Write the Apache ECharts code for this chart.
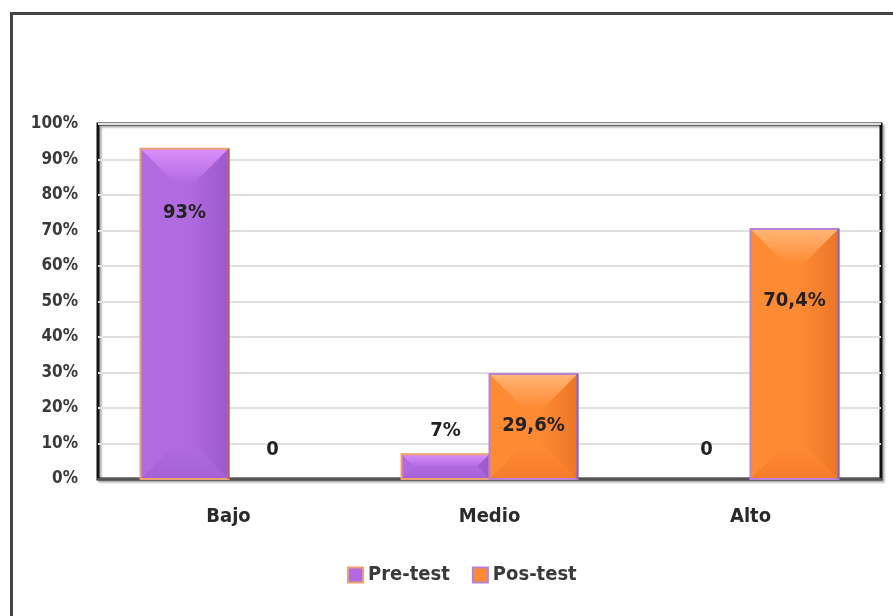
<!DOCTYPE html>
<html>
<head>
<meta charset="utf-8">
<script src="https://cdn.jsdelivr.net/npm/echarts@6/dist/echarts.min.js"></script>
<style>
  html, body { margin: 0; padding: 0; background: #fff; }
  #main { width: 893px; height: 616px; }
</style>
</head>
<body>
<div id="main"></div>
<script>
var categories = ['Bajo', 'Medio', 'Alto'];
var preTest = [93, 7, 0];
var posTest = [0, 29.6, 70.4];
var preLabels = ['93%', '7%', '0'];
var posLabels = ['0', '29,6%', '70,4%'];
var yTicks = [0, 10, 20, 30, 40, 50, 60, 70, 80, 90, 100];

// etiqueta dentro de la barra: distancia desde arriba (null = encima de la barra)
var preDist = [55, null, null];
var posDist = [null, 43, 63];

var font = '"DejaVu Sans Condensed", "DejaVu Sans", sans-serif';

// colores del bisel: cara, arriba, derecha, abajo, borde
var purpleSet = {face: '#b16ae0', top: '#dc8ffb', right: '#9c58cc', bottom: '#a460d4', border: '#eda070', edge: '#a85868'};
var orangeSet = {face: '#ff8a34', top: '#ffb676', right: '#ec7626', bottom: '#f47c2a', border: '#b882d4', edge: '#8c64a8'};

function makeRender(colors, labels, dist, side) {
    return function (params, api) {
        var idx = api.value(0);
        var v = api.value(1);
        var base = api.coord([idx, 0]);
        var catW = api.size([1, 0])[0];
        var bw = catW * 0.337;
        var x0 = side < 0 ? base[0] - bw : base[0];
        var x1 = x0 + bw;
        var y1 = base[1];
        var y0 = api.coord([idx, v])[1];
        var children = [];
        if (v > 0) {
            var b = Math.min(34, bw / 2, (y1 - y0) / 2);
            var rightGrad = new echarts.graphic.LinearGradient(0, 0, 1, 0, [
                {offset: 0, color: colors.face},
                {offset: 1, color: colors.right}
            ]);
            var topGrad = new echarts.graphic.LinearGradient(0, 0, 0, 1, [
                {offset: 0, color: colors.top},
                {offset: 1, color: colors.face}
            ]);
            var botGrad = new echarts.graphic.LinearGradient(0, 0, 0, 1, [
                {offset: 0, color: colors.face},
                {offset: 1, color: colors.bottom}
            ]);
            children.push(
                {type: 'rect', shape: {x: x0, y: y0, width: bw, height: y1 - y0}, style: {fill: colors.face}},
                {type: 'rect', shape: {x: x0 + bw * 0.55, y: y0, width: bw * 0.45, height: y1 - y0}, style: {fill: rightGrad}},
                {type: 'polygon', shape: {points: [[x0, y0], [x1, y0], [x1 - b, y0 + b], [x0 + b, y0 + b]]}, style: {fill: topGrad}},
                {type: 'polygon', shape: {points: [[x0, y1], [x0 + b, y1 - b], [x1 - b, y1 - b], [x1, y1]]}, style: {fill: botGrad}},
                {type: 'rect', shape: {x: x0, y: y0, width: bw, height: y1 - y0}, style: {fill: 'none', stroke: colors.border, lineWidth: 2}},
                {type: 'line', shape: {x1: x1, y1: y0, x2: x1, y2: y1}, style: {stroke: colors.edge, lineWidth: 2}}
            );
        }
        var ly;
        if (dist[idx] != null) {
            ly = y0 + dist[idx] + 9;
        } else {
            ly = y0 - (v === 0 ? 29 : 23);
        }
        children.push({
            type: 'text',
            style: {
                text: labels[idx],
                x: (x0 + x1) / 2,
                y: ly,
                align: 'center',
                verticalAlign: 'middle',
                font: 'bold 20px ' + font,
                fill: '#222'
            }
        });
        return {type: 'group', children: children};
    };
}

function toPairs(values) {
    var res = [];
    for (var i = 0; i < values.length; i++) {
        res.push([i, values[i]]);
    }
    return res;
}

var myChart = echarts.init(document.getElementById('main'));
myChart.setOption({
    animation: false,
    backgroundColor: '#fff',
    graphic: [{
        type: 'rect',
        shape: {x: 11.5, y: 13.5, width: 900, height: 620},
        style: {fill: 'none', stroke: '#444', lineWidth: 3},
        z: 100
    }],
    grid: {
        left: 98,
        top: 124,
        right: 12,
        bottom: 137,
        show: true,
        borderColor: '#111',
        borderWidth: 3,
        shadowColor: 'rgba(0,0,0,0.35)',
        shadowBlur: 2,
        shadowOffsetX: 2,
        shadowOffsetY: 2
    },
    legend: {
        data: ['Pre-test', 'Pos-test'],
        bottom: 26,
        left: 342,
        icon: 'rect',
        itemWidth: 15,
        itemHeight: 15,
        itemGap: 22,
        textStyle: {fontFamily: font, fontSize: 20, fontWeight: 'bold', color: '#3a3a3a'}
    },
    xAxis: [{
        type: 'category',
        data: categories,
        axisLine: {show: true, lineStyle: {color: '#555', width: 2}},
        axisTick: {show: false},
        axisLabel: {fontFamily: font, fontSize: 20, fontWeight: 'bold', color: '#2a2a2a', margin: 28}
    }],
    yAxis: [{
        type: 'value',
        min: 0,
        max: 100,
        interval: 10,
        axisLine: {show: false},
        axisTick: {show: false},
        axisLabel: {
            formatter: function (v) { return yTicks.indexOf(v) >= 0 ? v + '%' : ''; },
            fontFamily: font, fontSize: 17, fontWeight: 'bold', color: '#3a3a3a', margin: 20
        },
        splitLine: {lineStyle: {color: '#e0e0e0', width: 2}}
    }],
    series: [{
        name: 'Pre-test',
        type: 'custom',
        renderItem: makeRender(purpleSet, preLabels, preDist, -1),
        itemStyle: {color: purpleSet.face, borderColor: purpleSet.border, borderWidth: 2},
        encode: {x: 0, y: 1},
        data: toPairs(preTest)
    }, {
        name: 'Pos-test',
        type: 'custom',
        renderItem: makeRender(orangeSet, posLabels, posDist, 1),
        itemStyle: {color: orangeSet.face, borderColor: orangeSet.border, borderWidth: 2},
        encode: {x: 0, y: 1},
        data: toPairs(posTest)
    }]
});
</script>
</body>
</html>
